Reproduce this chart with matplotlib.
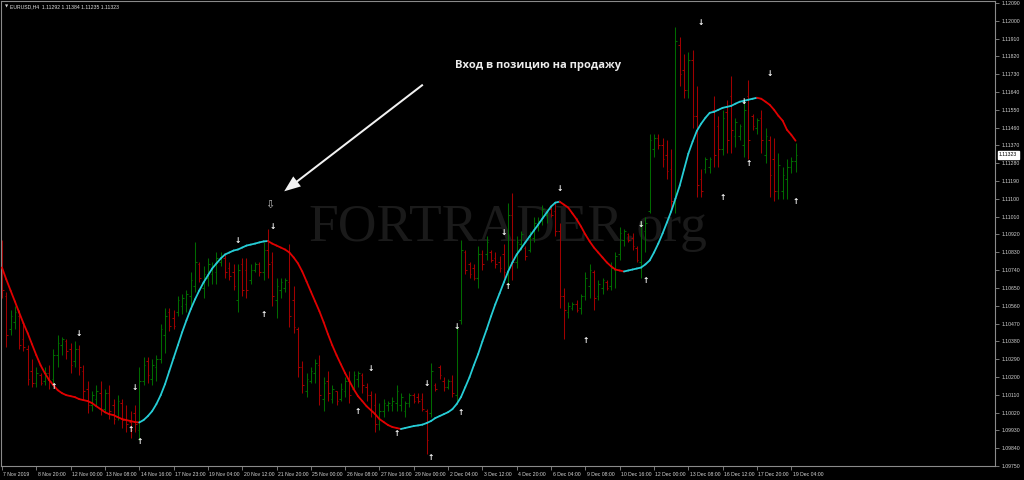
import matplotlib
matplotlib.use("Agg")
import matplotlib.pyplot as plt
import matplotlib.transforms as mtransforms
from matplotlib.collections import LineCollection
from matplotlib.patches import FancyArrowPatch
import numpy as np

W, H = 1024, 480
BG, FRAME, AXTXT = "#000000", "#8a8a8a", "#d4d4d4"
UP, DOWN = "#006a00", "#a00000"
RISE, FALL = "#26cdd6", "#e00000"
plt.rcParams["font.family"] = ["Liberation Sans", "DejaVu Sans"]

# EURUSD H4 bars, 7 Nov - 19 Dec 2019
opens = [
    1.1084, 1.1061, 1.1044, 1.1048, 1.1051, 1.1039, 1.1034, 1.1023, 1.1017, 1.1021,
    1.1018, 1.1022, 1.1019, 1.1031, 1.1036, 1.1038, 1.1034, 1.1028, 1.1034, 1.1023,
    1.1014, 1.1006, 1.1009, 1.1012, 1.1004, 1.1012, 1.1006, 1.1000, 1.1007, 1.0999,
    1.0997, 1.1002, 1.0993, 1.1018, 1.1028, 1.1019, 1.1025, 1.1029, 1.1041, 1.1053,
    1.1050, 1.1053, 1.1056, 1.1057, 1.1061, 1.1066, 1.1077, 1.1065, 1.1070, 1.1072,
    1.1073, 1.1078, 1.1080, 1.1075, 1.1073, 1.1059, 1.1077, 1.1074, 1.1069, 1.1074,
    1.1077, 1.1073, 1.1084, 1.1078, 1.1059, 1.1064, 1.1065, 1.1068, 1.1059, 1.1044,
    1.1025, 1.1013, 1.1018, 1.1022, 1.1026, 1.1009, 1.1018, 1.1009, 1.1013, 1.1009,
    1.1013, 1.1018, 1.1014, 1.1019, 1.1021, 1.1015, 1.1011, 1.1006, 1.0996, 1.1003,
    1.1006, 1.1006, 1.1007, 1.1006, 1.1003, 1.1007, 1.1011, 1.1010, 1.1009, 1.1003,
    1.1002, 1.1016, 1.1025, 1.1018, 1.1015, 1.1018, 1.1011, 1.1049, 1.1083, 1.1077,
    1.1075, 1.1070, 1.1082, 1.1082, 1.1083, 1.1080, 1.1078, 1.1082, 1.1073, 1.1102,
    1.1078, 1.1087, 1.1085, 1.1084, 1.1090, 1.1096, 1.1099, 1.1102, 1.1105, 1.1104,
    1.1094, 1.1061, 1.1053, 1.1055, 1.1057, 1.1055, 1.1061, 1.1066, 1.1073, 1.1061,
    1.1065, 1.1068, 1.1066, 1.1074, 1.1082, 1.1089, 1.1092, 1.1090, 1.1085, 1.1078,
    1.1094, 1.1104, 1.1135, 1.1141, 1.1137, 1.1132, 1.1125, 1.1109, 1.1188, 1.1175,
    1.1165, 1.1180, 1.1152, 1.1120, 1.1125, 1.1126, 1.1155, 1.1147, 1.1135, 1.1154,
    1.1162, 1.1142, 1.1142, 1.1137, 1.1162, 1.1152, 1.1146, 1.1151, 1.1132, 1.1140,
    1.1130, 1.1114, 1.1114, 1.1120, 1.1126, 1.11292]
highs = [
    1.1089, 1.1063, 1.1054, 1.1056, 1.1054, 1.1048, 1.1036, 1.1029, 1.1025, 1.1022,
    1.1025, 1.1026, 1.1034, 1.1041, 1.1040, 1.1039, 1.1037, 1.1038, 1.1036, 1.1026,
    1.1018, 1.1013, 1.1016, 1.1018, 1.1014, 1.1016, 1.1009, 1.1011, 1.1009, 1.1006,
    1.1003, 1.1006, 1.1025, 1.1030, 1.1030, 1.1029, 1.1031, 1.1047, 1.1055, 1.1055,
    1.1054, 1.1061, 1.1062, 1.1064, 1.1073, 1.1088, 1.1078, 1.1076, 1.1080, 1.1078,
    1.1083, 1.1083, 1.1082, 1.1078, 1.1077, 1.1077, 1.1080, 1.1080, 1.1077, 1.1078,
    1.1078, 1.1088, 1.1095, 1.1083, 1.1070, 1.1070, 1.1070, 1.1087, 1.1066, 1.1045,
    1.1028, 1.1022, 1.1025, 1.1029, 1.1031, 1.1020, 1.1023, 1.1016, 1.1013, 1.1017,
    1.1020, 1.1023, 1.1023, 1.1023, 1.1022, 1.1017, 1.1013, 1.1012, 1.1007, 1.1009,
    1.1008, 1.1010, 1.1016, 1.1012, 1.1008, 1.1012, 1.1012, 1.1012, 1.1012, 1.1004,
    1.1027, 1.1017, 1.1026, 1.1020, 1.1019, 1.1021, 1.1046, 1.1089, 1.1084, 1.1078,
    1.1077, 1.1086, 1.1084, 1.1091, 1.1084, 1.1083, 1.1081, 1.1087, 1.1108, 1.1113,
    1.1091, 1.1094, 1.1086, 1.1094, 1.1101, 1.1101, 1.1107, 1.1105, 1.1107, 1.1108,
    1.1098, 1.1065, 1.1058, 1.1058, 1.1059, 1.1062, 1.1073, 1.1077, 1.1074, 1.1069,
    1.1070, 1.1069, 1.1078, 1.1083, 1.1096, 1.1095, 1.1093, 1.1093, 1.1086, 1.1099,
    1.1101, 1.1143, 1.1143, 1.1143, 1.1141, 1.1140, 1.1135, 1.1197, 1.1192, 1.1183,
    1.1184, 1.1185, 1.1167, 1.1125, 1.1131, 1.1131, 1.1162, 1.1152, 1.1155, 1.1160,
    1.1172, 1.1151, 1.1148, 1.1160, 1.1170, 1.1153, 1.1151, 1.1155, 1.1146, 1.1142,
    1.1141, 1.1133, 1.1126, 1.1130, 1.1131, 1.11384]
lows = [
    1.1060, 1.1035, 1.1041, 1.1044, 1.1034, 1.1033, 1.1016, 1.1015, 1.1015, 1.1016,
    1.1016, 1.1014, 1.1017, 1.1025, 1.1031, 1.1029, 1.1022, 1.1025, 1.1021, 1.1009,
    1.1002, 1.1003, 1.1006, 1.1001, 1.1002, 1.0999, 1.0996, 1.0998, 1.0994, 1.0992,
    1.0989, 1.0992, 1.0988, 1.1016, 1.1017, 1.1016, 1.1018, 1.1027, 1.1032, 1.1043,
    1.1044, 1.1051, 1.1052, 1.1053, 1.1055, 1.1063, 1.1068, 1.1060, 1.1066, 1.1067,
    1.1067, 1.1076, 1.1070, 1.1069, 1.1064, 1.1053, 1.1061, 1.1060, 1.1067, 1.1073,
    1.1071, 1.1069, 1.1070, 1.1056, 1.1050, 1.1060, 1.1063, 1.1045, 1.1042, 1.1020,
    1.1012, 1.1010, 1.1017, 1.1017, 1.1006, 1.1003, 1.1008, 1.1007, 1.1006, 1.1008,
    1.1010, 1.1007, 1.1013, 1.1015, 1.1012, 1.1008, 1.1000, 1.0992, 1.0993, 1.1000,
    1.1003, 1.1003, 1.1003, 1.1003, 1.1000, 1.1005, 1.1007, 1.1007, 1.1003, 1.0981,
    1.1000, 1.1013, 1.1019, 1.1013, 1.1014, 1.1010, 1.1007, 1.1047, 1.1072, 1.1070,
    1.1069, 1.1065, 1.1074, 1.1079, 1.1078, 1.1075, 1.1073, 1.1070, 1.1066, 1.1069,
    1.1075, 1.1084, 1.1079, 1.1083, 1.1088, 1.1094, 1.1097, 1.1098, 1.1101, 1.1091,
    1.1055, 1.1039, 1.1050, 1.1054, 1.1053, 1.1052, 1.1059, 1.1060, 1.1054, 1.1059,
    1.1062, 1.1064, 1.1064, 1.1065, 1.1079, 1.1086, 1.1088, 1.1084, 1.1078, 1.1070,
    1.1083, 1.1103, 1.1131, 1.1135, 1.1126, 1.1120, 1.1104, 1.1103, 1.1167, 1.1161,
    1.1161, 1.1146, 1.1111, 1.1111, 1.1123, 1.1123, 1.1126, 1.1126, 1.1132, 1.1133,
    1.1133, 1.1136, 1.1140, 1.1131, 1.1130, 1.1145, 1.1143, 1.1133, 1.1128, 1.1111,
    1.1109, 1.1110, 1.1110, 1.1110, 1.1123, 1.11235]
closes = [
    1.1064, 1.1041, 1.1051, 1.1053, 1.1036, 1.1035, 1.1019, 1.1017, 1.1022, 1.1017,
    1.1022, 1.1018, 1.1031, 1.1037, 1.1039, 1.1033, 1.1026, 1.1034, 1.1025, 1.1013,
    1.1006, 1.1011, 1.1013, 1.1004, 1.1012, 1.1003, 1.0999, 1.1008, 1.0998, 1.0996,
    1.0993, 1.0996, 1.1018, 1.1026, 1.1021, 1.1026, 1.1029, 1.1044, 1.1051, 1.1046,
    1.1046, 1.1059, 1.1060, 1.1062, 1.1069, 1.1078, 1.1070, 1.1072, 1.1077, 1.1076,
    1.1080, 1.1081, 1.1073, 1.1071, 1.1066, 1.1074, 1.1064, 1.1064, 1.1074, 1.1077,
    1.1073, 1.1084, 1.1077, 1.1061, 1.1066, 1.1068, 1.1069, 1.1051, 1.1045, 1.1025,
    1.1016, 1.1019, 1.1023, 1.1027, 1.1011, 1.1017, 1.1012, 1.1014, 1.1008, 1.1014,
    1.1018, 1.1011, 1.1021, 1.1022, 1.1016, 1.1011, 1.1003, 1.0996, 1.1003, 1.1007,
    1.1007, 1.1008, 1.1013, 1.1010, 1.1007, 1.1011, 1.1008, 1.1008, 1.1004, 1.0988,
    1.1023, 1.1014, 1.1021, 1.1015, 1.1018, 1.1012, 1.1044, 1.1084, 1.1074, 1.1072,
    1.1070, 1.1082, 1.1077, 1.1088, 1.1079, 1.1077, 1.1075, 1.1073, 1.1102, 1.1078,
    1.1088, 1.1092, 1.1081, 1.1092, 1.1098, 1.1099, 1.1105, 1.1104, 1.1102, 1.1094,
    1.1061, 1.1054, 1.1056, 1.1057, 1.1054, 1.1061, 1.1070, 1.1074, 1.1060, 1.1067,
    1.1069, 1.1065, 1.1075, 1.1081, 1.1093, 1.1094, 1.1089, 1.1086, 1.1079, 1.1097,
    1.1098, 1.1140, 1.1141, 1.1137, 1.1130, 1.1124, 1.1109, 1.1190, 1.1173, 1.1165,
    1.1180, 1.1152, 1.1117, 1.1114, 1.1130, 1.1130, 1.1132, 1.1135, 1.1151, 1.1140,
    1.1145, 1.1149, 1.1147, 1.1155, 1.1140, 1.1147, 1.1150, 1.1140, 1.1142, 1.1122,
    1.1114, 1.1127, 1.1122, 1.1126, 1.1129, 1.11323]

# smoothed trend line (red while falling, cyan while rising)
trend = [
    1.10753, 1.10693, 1.10637, 1.10582, 1.10526, 1.10471, 1.10421, 1.10365, 1.10310, 1.10259,
    1.10219, 1.10184, 1.10158, 1.10133, 1.10118, 1.10108, 1.10103, 1.10098, 1.10088, 1.10083,
    1.10078, 1.10068, 1.10052, 1.10037, 1.10022, 1.10012, 1.10007, 1.09997, 1.09987, 1.09982,
    1.09977, 1.09972, 1.09970, 1.09982, 1.10002, 1.10027, 1.10063, 1.10108, 1.10163, 1.10229,
    1.10295, 1.10360, 1.10426, 1.10486, 1.10542, 1.10592, 1.10637, 1.10678, 1.10713, 1.10748,
    1.10774, 1.10799, 1.10819, 1.10829, 1.10839, 1.10844, 1.10854, 1.10864, 1.10869, 1.10874,
    1.10880, 1.10885, 1.10887, 1.10874, 1.10864, 1.10854, 1.10844, 1.10829, 1.10804, 1.10774,
    1.10733, 1.10683, 1.10632, 1.10582, 1.10532, 1.10476, 1.10416, 1.10360, 1.10310, 1.10264,
    1.10219, 1.10179, 1.10138, 1.10103, 1.10078, 1.10052, 1.10032, 1.10012, 1.09987, 1.09972,
    1.09957, 1.09947, 1.09942, 1.09937, 1.09942, 1.09947, 1.09952, 1.09955, 1.09959, 1.09967,
    1.09977, 1.09992, 1.10002, 1.10012, 1.10022, 1.10037, 1.10063, 1.10098, 1.10148, 1.10199,
    1.10259, 1.10315, 1.10380, 1.10441, 1.10506, 1.10567, 1.10622, 1.10678, 1.10733, 1.10779,
    1.10819, 1.10849, 1.10880, 1.10910, 1.10940, 1.10970, 1.11001, 1.11031, 1.11061, 1.11081,
    1.11086, 1.11071, 1.11056, 1.11026, 1.10996, 1.10960, 1.10920, 1.10885, 1.10854, 1.10829,
    1.10804, 1.10779, 1.10759, 1.10743, 1.10738, 1.10733, 1.10738, 1.10743, 1.10748, 1.10753,
    1.10769, 1.10789, 1.10829, 1.10874, 1.10925, 1.10980, 1.11036, 1.11101, 1.11167, 1.11248,
    1.11328, 1.11389, 1.11444, 1.11480, 1.11510, 1.11535, 1.11540, 1.11550, 1.11560, 1.11565,
    1.11570, 1.11581, 1.11591, 1.11596, 1.11601, 1.11606, 1.11611, 1.11606, 1.11591, 1.11575,
    1.11550, 1.11520, 1.11495, 1.11449, 1.11424, 1.11394]

# white signal arrows: bar index, price, direction (1 = up, -1 = down)
sig_bar = [12, 18, 30, 31, 32, 55, 61, 63, 83, 86, 92, 99, 100, 106,
           107, 117, 118, 130, 136, 149, 150, 163, 168, 173, 174, 179, 185]
sig_price = [1.10154, 1.10422, 1.09932, 1.10149, 1.09876, 1.10892, 1.10518,
             1.10958, 1.10023, 1.10245, 1.09912, 1.10169, 1.09795, 1.10457,
             1.10018, 1.10928, 1.10655, 1.11150, 1.10382, 1.10968, 1.10685,
             1.11989, 1.11109, 1.11590, 1.11281, 1.11736, 1.11089]
sig_dir = [1, -1, 1, -1, 1, -1, 1, -1, 1, -1, 1, -1, 1, -1,
           1, -1, 1, -1, 1, -1, 1, -1, 1, -1, 1, -1, 1]

x_labels = ["7 Nov 2019", "8 Nov 20:00", "12 Nov 00:00", "13 Nov 08:00",
            "14 Nov 16:00", "17 Nov 23:00", "19 Nov 04:00", "20 Nov 12:00",
            "21 Nov 20:00", "25 Nov 00:00", "26 Nov 08:00", "27 Nov 16:00",
            "29 Nov 00:00", "2 Dec 04:00", "3 Dec 12:00", "4 Dec 20:00",
            "6 Dec 04:00", "9 Dec 08:00", "10 Dec 16:00", "12 Dec 00:00",
            "13 Dec 08:00", "16 Dec 12:00", "17 Dec 20:00", "19 Dec 04:00"]
price_ticks = [1.12090, 1.12000, 1.11910, 1.11820, 1.11730, 1.11640, 1.11550,
               1.11460, 1.11370, 1.11280, 1.11190, 1.11100, 1.11010, 1.10920,
               1.10830, 1.10740, 1.10650, 1.10560, 1.10470, 1.10380, 1.10290,
               1.10200, 1.10110, 1.10020, 1.09930, 1.09840, 1.09750]

o, h, l, c = map(np.array, (opens, highs, lows, closes))
n = len(c)
x = np.arange(n)

fig = plt.figure(figsize=(W / 100, H / 100), dpi=100, facecolor=BG)
ax = fig.add_axes([1 / W, 14 / H, 994 / W, 465 / H], facecolor=BG)
ax.set_xlim(-0.23, 231.5)
ax.set_ylim(1.09750, 1.12100)

ax.text(0.51, 0.512, "FORTRADER.org", transform=ax.transAxes, ha="center",
        va="center", fontsize=38.5, family="Liberation Serif", color="#1a1a1a", zorder=0)

# OHLC bars
col = np.where(c >= o, UP, DOWN)
ax.vlines(x, l, h, colors=col, lw=0.75, zorder=2)
ax.hlines(o, x - 0.38, x, colors=col, lw=0.75, zorder=2)
ax.hlines(c, x, x + 0.38, colors=col, lw=0.75, zorder=2)

# two-colour trend line
t = np.array(trend)
pts = np.column_stack([x, t])
segs = np.stack([pts[:-1], pts[1:]], axis=1)
seg_col = np.where(np.diff(t) < 0, FALL, RISE)
ax.add_collection(LineCollection(segs, colors=seg_col, lw=1.3, zorder=3, capstyle="round"))

for b, p, d in zip(sig_bar, sig_price, sig_dir):
    ax.text(b, p, "↑" if d > 0 else "↓", color="white", fontsize=5.5,
            fontweight="bold", family="DejaVu Sans", ha="center", va="center", zorder=4)

# axes, MT4 style
for s in ax.spines.values():
    s.set_color(FRAME)
    s.set_linewidth(0.8)
ax.yaxis.tick_right()
ax.set_yticks(price_ticks, [f"{v:.5f}" for v in price_ticks])
ax.set_xticks(range(0, n, 8), x_labels)
ax.tick_params(axis="both", direction="out", length=3, width=0.6, color=FRAME,
               labelsize=3.7, labelcolor=AXTXT, pad=1.5)
shift = mtransforms.ScaledTranslation(1.5 / 100, 0, fig.dpi_scale_trans)
for lbl in ax.get_xticklabels():
    lbl.set_horizontalalignment("left")
    lbl.set_transform(lbl.get_transform() + shift)

ax.text(1.004, c[-1], f"{c[-1]:.5f}", transform=ax.get_yaxis_transform(),
        ha="left", va="center", fontsize=3.7, color="black", clip_on=False, zorder=6,
        bbox=dict(boxstyle="square,pad=0.25", fc="white", ec="white"))

fig.text(5 / W, 1 - 7 / H, "▼", fontsize=3, color=AXTXT, family="DejaVu Sans", va="center")
fig.text(10 / W, 1 - 7 / H, f"EURUSD,H4  {o[-1]:.5f} {h[-1]:.5f} {l[-1]:.5f} {c[-1]:.5f}",
         fontsize=3.7, color="#e0e0e0", va="center")

# callout
ax.text(0.540, 0.862, "Вход в позицию на продажу", transform=ax.transAxes,
        fontsize=8, fontweight="bold", family=["Open Sans", "DejaVu Sans"],
        color="#ececec", ha="center", va="center", zorder=6)
ax.add_patch(FancyArrowPatch((0.4266, 0.8237), (0.2827, 0.5871), transform=ax.transAxes,
                             arrowstyle="simple,head_width=1.4,head_length=1.8,tail_width=0.22",
                             mutation_scale=6.5, color="#f2f2f2", lw=0, zorder=6))
ax.text(0.2706, 0.5613, "⇩", transform=ax.transAxes, fontsize=8, color="#bdbdbd",
        family="DejaVu Sans", ha="center", va="center", zorder=6)

fig.savefig("out.png", dpi=100, facecolor=BG)
